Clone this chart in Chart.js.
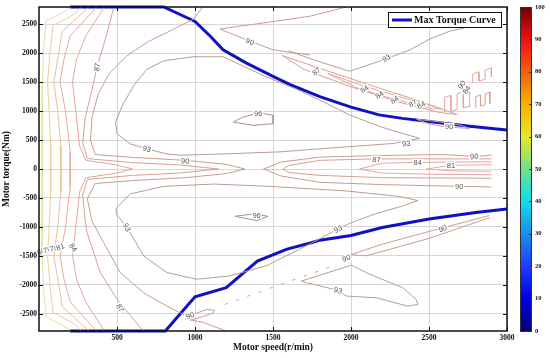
<!DOCTYPE html>
<html lang="en">
<head>
<meta charset="UTF-8">
<title>Motor efficiency map</title>
<script src="https://cdn.jsdelivr.net/npm/chart.js"></script>
<style>
    html, body { margin: 0; padding: 0; background: #fff; }
</style>
</head>
<body>
<canvas id="effMap" width="550" height="358"></canvas>
<script>
// axes
const speedTicks = [500, 1000, 1500, 2000, 2500, 3000];
const torqueTicks = [-2500, -2000, -1500, -1000, -500, 0, 500, 1000, 1500, 2000, 2500];
const colorbarTicks = [0, 10, 20, 30, 40, 50, 60, 70, 80, 90, 100];

// max torque curve [speed r/min, torque Nm]
const maxTorqueUp = [[200, 2800], [800, 2800], [1000, 2550], [1100, 2290], [1180, 2060], [1330, 1830], [1500, 1600],
    [1610, 1460], [1800, 1250], [2000, 1070], [2180, 935], [2330, 875], [2500, 820], [2760, 740], [3000, 675]];
const maxTorqueDown = [[200, -2800], [810, -2800], [1000, -2210], [1200, -2050], [1400, -1590], [1590, -1385],
    [1740, -1280], [1800, -1230], [2000, -1150], [2200, -1010], [2500, -865], [2800, -750], [3000, -690]];

// efficiency contour lines [speed, torque], level in %
const eff60 = [[210, 2800], [150, 2700], [45, 2560], [30, 2100], [22, 1500], [20, 500], [20, -500], [22, -1500], [30, -2100], [45, -2560], [150, -2700], [210, -2800]];
const eff70 = [[270, 2800], [230, 2680], [90, 2480], [70, 2000], [55, 1500], [65, 1000], [75, 400], [75, -400], [65, -1000], [55, -1500], [70, -2000], [90, -2480], [230, -2680], [270, -2800]];
const eff78 = [[320, 2800], [150, 2380], [120, 1900], [95, 1500], [120, 1000], [140, 400], [140, -400], [120, -1000], [95, -1500], [120, -1900], [150, -2380], [320, -2800]];
const eff81 = [[370, 2800], [200, 2300], [160, 1900], [135, 1500], [170, 1000], [200, 300], [200, -300], [170, -1000], [135, -1500], [160, -1900], [200, -2300], [370, -2800]];
const eff84 = [[420, 2800], [300, 2300], [240, 1900], [215, 1500], [240, 900], [260, 400], [300, 150], [500, 70], [600, 0], [500, -70], [300, -150], [260, -400], [240, -900], [215, -1500], [240, -1900], [300, -2300], [420, -2800]];
const eff87 = [[480, 2800], [425, 2240], [372, 1760], [340, 1370], [297, 900], [280, 450], [310, 180], [600, 110], [900, 70], [1150, 0], [900, -70], [600, -110], [310, -180], [280, -450], [297, -900], [308, -1100], [393, -1790], [500, -2250], [606, -2600], [670, -2800]];
const eff90 = [[1050, 2800], [990, 2590], [850, 2400], [700, 2200], [560, 1950], [450, 1650], [380, 1300], [340, 900], [330, 500], [360, 250], [600, 200], [937, 150], [1200, 80], [1320, 0], [1200, -80], [937, -150], [600, -200], [360, -250], [310, -515], [340, -900], [414, -1270], [521, -1791], [670, -2139], [820, -2370], [905, -2487], [968, -2560]];
const eff90Top = [[1970, 2800], [1736, 2640], [1480, 2540], [1200, 2435], [1160, 2418], [1352, 2210], [1500, 2060], [1736, 1972]];
const eff90Leaf = [[940, -2600], [1000, -2500], [1075, -2428], [1125, -2440], [1118, -2487], [1040, -2560], [970, -2610], [1050, -2650], [1200, -2800]];
const eff93Up = [[490, 812], [540, 1130], [610, 1450], [690, 1720], [800, 1870], [990, 1940], [1180, 1940], [1300, 1790], [1450, 1600], [1650, 1380], [1820, 1165], [1990, 935], [2200, 720], [2440, 528], [2270, 441], [1970, 383], [1544, 296], [1200, 262], [905, 238], [820, 260], [692, 348], [585, 435], [500, 610], [490, 812]];
const eff93Down = [[495, -680], [585, -430], [800, -300], [1120, -260], [1480, -300], [1970, -380], [2300, -470], [2430, -545], [2330, -640], [2150, -780], [2000, -930], [1917, -1036], [1740, -1290], [1460, -1670], [1220, -1850], [1010, -1905], [820, -1790], [670, -1500], [565, -1010], [495, -780], [495, -680]];
const eff93Ridge = [[1600, 2040], [1790, 1860], [1990, 1690], [2180, 1860], [2380, 2060], [2500, 2240], [2630, 2380], [2970, 2590]];
const eff93Low = [[2002, -1663], [2120, -1819], [2332, -2052], [2418, -2254], [2428, -2341], [2364, -2370], [2162, -2226], [1970, -2196], [1917, -2097], [1714, -1965], [1682, -1936], [2002, -1663]];
const eff96Up = [[1245, 812], [1309, 899], [1416, 969], [1501, 929], [1501, 783], [1373, 755], [1245, 812]];
const eff96Down = [[1256, -817], [1373, -776], [1469, -817], [1395, -892], [1256, -817]];
const band90 = [[2900, 240], [2790, 215], [2600, 250], [2200, 235], [1800, 205], [1550, 120], [1440, 0], [1550, -120], [1800, -230], [2200, -270], [2694, -300], [2900, -310]];
const band87 = [[2900, 175], [2500, 175], [2163, 175], [1800, 150], [1600, 60], [1565, 0], [1600, -60], [1800, -110], [2200, -150], [2900, -160]];
const band84 = [[2900, 125], [2428, 115], [2200, 100], [2055, 0], [2200, -70], [2500, -90], [2900, -100]];
const band81 = [[2900, 75], [2641, 64], [2481, 0], [2641, -30], [2900, -40]];
const strip87 = [[1560, 1960], [1800, 1740], [2100, 1470], [2400, 1210], [2620, 1000], [2680, 940], [2560, 980], [2300, 1160], [2000, 1420], [1700, 1720], [1560, 1960]];
const strip84 = [[1850, 1650], [2100, 1420], [2350, 1220], [2580, 1040], [2520, 1040], [2300, 1190], [2050, 1390], [1850, 1650]];
const combA = [[2780, 1480], [2780, 1640], [2820, 1680], [2820, 1520], [2860, 1550], [2860, 1710], [2900, 1750], [2900, 1590]];
const combB = [[2600, 980], [2600, 1240], [2640, 1270], [2640, 1000], [2680, 1030], [2680, 1300], [2720, 1330], [2720, 1060], [2760, 1080], [2760, 1350]];
const combC = [[2800, 1060], [2800, 1250], [2830, 1280], [2830, 1090], [2860, 1110], [2860, 1300], [2890, 1330], [2890, 1130]];
const loop90Right = [[2420, 860], [2500, 780], [2600, 730], [2760, 700], [2700, 760], [2550, 820], [2420, 860]];
const tongue90Low = [[2886, -805], [2500, -1080], [2200, -1300], [1998, -1480], [2100, -1500], [2500, -1200], [2890, -840]];
const dashes90 = [[1190, -2340], [1900, -1660]];

const contours = [
    { level: 60, pts: eff60 }, { level: 70, pts: eff70 }, { level: 78, pts: eff78 }, { level: 81, pts: eff81 },
    { level: 84, pts: eff84 }, { level: 87, pts: eff87 }, { level: 90, pts: eff90 }, { level: 90, pts: eff90Top },
    { level: 90, pts: eff90Leaf }, { level: 93, pts: eff93Up }, { level: 93, pts: eff93Down }, { level: 93, pts: eff93Ridge },
    { level: 93, pts: eff93Low }, { level: 96, pts: eff96Up }, { level: 96, pts: eff96Down },
    { level: 90, pts: band90 }, { level: 87, pts: band87 }, { level: 84, pts: band84 }, { level: 81, pts: band81 },
    { level: 87, pts: strip87 }, { level: 84, pts: strip84 }, { level: 84, pts: combA }, { level: 84, pts: combB },
    { level: 87, pts: combC }, { level: 90, pts: loop90Right }, { level: 90, pts: tongue90Low }, { level: 90, pts: dashes90, dashed: true }
];

// contour labels [text, speed, torque, angle]
const contourLabels = [
    ['87', 372, 1760, -78], ['90', 1352, 2203, 22], ['93', 692, 348, 14], ['90', 937, 140, 4], ['96', 1405, 955, 0],
    ['93', 2226, 1920, -28], ['87', 1778, 1687, -35], ['84', 2087, 1381, -35], ['84', 2183, 1282, -35], ['84', 2279, 1195, -35],
    ['87', 2396, 1137, -30], ['84', 2450, 1108, -30], ['90', 2710, 1455, -55], ['84', 2740, 1370, -55], ['90', 2630, 735, 0],
    ['93', 2354, 441, -5], ['87', 2163, 170, 0], ['84', 2428, 112, 0], ['81', 2641, 62, 0], ['90', 2790, 215, -5],
    ['90', 2694, -300, 0], ['96', 1395, -805, 0], ['93', 564, -1008, 62], ['87', 521, -2400, 62], ['84', 219, -1356, 55],
    ['60', 15, -1420, -20], ['70', 55, -1395, -20], ['78', 95, -1370, -20], ['81', 137, -1345, -20],
    ['90', 968, -2530, -22], ['93', 1917, -1036, -28], ['90', 1970, -1541, -20], ['90', 2588, -1030, -20], ['93', 1917, -2097, 15]
];

// style
const levelColors = { 60: '#e6dfa0', 70: '#eecf98', 78: '#ecbc98', 81: '#eaa8a2', 84: '#e4a4a0', 87: '#d6a096', 90: '#c99c92', 93: '#b89c90', 96: '#a89286' };
const jetStops = [[0, '#00007a'], [0.1, '#0000e0'], [0.2, '#1c3cff'], [0.3, '#1a90e8'], [0.4, '#10dcf0'], [0.5, '#70e288'],
    [0.6, '#e6e828'], [0.7, '#f8b000'], [0.8, '#f06010'], [0.9, '#f01010'], [1, '#6e0000']];
const serif = '"Liberation Serif", "Times New Roman", serif';

const toXY = pts => pts.map(([x, y]) => ({ x: x, y: y }));

const datasets = contours.map(c => ({
    data: toXY(c.pts),
    showLine: true,
    borderColor: levelColors[c.level],
    borderWidth: 1,
    borderDash: c.dashed ? [3, 9] : [],
    pointRadius: 0,
    tension: 0
}));
[maxTorqueUp, maxTorqueDown].forEach(curve => {
    datasets.push({
        data: toXY(curve),
        showLine: true,
        borderColor: '#1010c4',
        borderWidth: 3,
        pointRadius: 0,
        tension: 0,
        clip: false
    });
});

const fixedTicks = list => scale => { scale.ticks = list.map(v => ({ value: v })); };
const plainNum = v => String(v);

const mapDecor = {
    id: 'mapDecor',
    afterDatasetsDraw(chart) {
        const ctx = chart.ctx, xs = chart.scales.x, ys = chart.scales.y;
        ctx.save();
        ctx.font = '7.5px "Liberation Sans", Arial, sans-serif';
        ctx.textAlign = 'center';
        ctx.textBaseline = 'middle';
        contourLabels.forEach(([txt, s, t, ang]) => {
            const px = xs.getPixelForValue(s), py = ys.getPixelForValue(t);
            ctx.save();
            ctx.translate(px, py);
            ctx.rotate(ang * Math.PI / 180);
            const w = ctx.measureText(txt).width;
            ctx.fillStyle = '#fff';
            ctx.fillRect(-w / 2 - 1, -3.5, w + 2, 7);
            ctx.fillStyle = '#555';
            ctx.fillText(txt, 0, 0.5);
            ctx.restore();
        });
        ctx.restore();
    },
    afterDraw(chart) {
        const ctx = chart.ctx, a = chart.chartArea, xs = chart.scales.x, ys = chart.scales.y, cb = chart.scales.cb;
        ctx.save();
        // inward ticks
        ctx.strokeStyle = '#111';
        ctx.lineWidth = 1;
        ctx.beginPath();
        speedTicks.forEach(v => {
            const px = Math.round(xs.getPixelForValue(v)) + 0.5;
            ctx.moveTo(px, a.bottom); ctx.lineTo(px, a.bottom - 4);
            ctx.moveTo(px, a.top); ctx.lineTo(px, a.top + 4);
        });
        torqueTicks.forEach(v => {
            const py = Math.round(ys.getPixelForValue(v)) + 0.5;
            ctx.moveTo(a.left, py); ctx.lineTo(a.left + 4, py);
            ctx.moveTo(a.right, py); ctx.lineTo(a.right - 4, py);
        });
        ctx.stroke();
        // frame
        ctx.lineWidth = 1.5;
        ctx.strokeStyle = '#111';
        ctx.strokeRect(a.left, a.top, a.right - a.left, a.bottom - a.top);

        // colour bar
        const top = cb.getPixelForValue(100), bot = cb.getPixelForValue(0);
        const bx = cb.left + 13, bw = 11;
        const grad = ctx.createLinearGradient(0, bot, 0, top);
        jetStops.forEach(([p, c]) => grad.addColorStop(p, c));
        ctx.fillStyle = grad;
        ctx.fillRect(bx, top, bw, bot - top);
        ctx.lineWidth = 1;
        ctx.strokeStyle = '#333';
        ctx.strokeRect(bx + 0.5, top + 0.5, bw, bot - top);
        ctx.beginPath();
        colorbarTicks.forEach(v => {
            const py = Math.round(cb.getPixelForValue(v)) + 0.5;
            ctx.moveTo(bx + bw, py); ctx.lineTo(bx + bw - 2, py);
        });
        ctx.stroke();

        // legend
        const lx = a.right - 119, ly = a.top + 5;
        ctx.fillStyle = '#fff';
        ctx.fillRect(lx, ly, 113, 15);
        ctx.strokeStyle = '#111';
        ctx.lineWidth = 1;
        ctx.strokeRect(lx + 0.5, ly + 0.5, 113, 15);
        ctx.strokeStyle = '#1010c4';
        ctx.lineWidth = 3;
        ctx.beginPath();
        ctx.moveTo(lx + 4, ly + 8); ctx.lineTo(lx + 24, ly + 8);
        ctx.stroke();
        ctx.fillStyle = '#111';
        ctx.font = 'bold 10px ' + serif;
        ctx.textBaseline = 'middle';
        ctx.textAlign = 'left';
        ctx.fillText('Max Torque Curve', lx + 26, ly + 8.5);
        ctx.restore();
    }
};

new Chart(document.getElementById('effMap'), {
    type: 'scatter',
    data: { datasets: datasets },
    options: {
        responsive: false,
        animation: false,
        layout: { padding: { top: 7, left: 0, right: 0, bottom: 0 } },
        plugins: { legend: { display: false }, tooltip: { enabled: false } },
        scales: {
            x: {
                type: 'linear',
                min: 0,
                max: 3000,
                afterBuildTicks: fixedTicks(speedTicks),
                afterFit: s => { s.height = 27; },
                grid: { color: '#d6d6d6', drawTicks: false },
                border: { display: false },
                ticks: { padding: 3, color: '#111', callback: plainNum, font: { family: serif, size: 7.5, weight: 'bold' } },
                title: { display: true, text: 'Motor speed(r/min)', color: '#111', padding: { top: 0, bottom: 5 },
                    font: { family: serif, size: 9.5, weight: 'bold' } }
            },
            y: {
                type: 'linear',
                position: 'left',
                min: -2800,
                max: 2800,
                afterBuildTicks: fixedTicks(torqueTicks),
                afterFit: s => { s.width = 39; },
                grid: { color: '#d6d6d6', drawTicks: false },
                border: { display: false },
                ticks: { padding: 2, color: '#111', callback: plainNum, font: { family: serif, size: 7.5, weight: 'bold' } },
                title: { display: true, text: 'Motor torque(Nm)', color: '#111', padding: { top: 1, bottom: 0 },
                    font: { family: serif, size: 9.5, weight: 'bold' } }
            },
            cb: {
                type: 'linear',
                position: 'right',
                min: 0,
                max: 100,
                afterBuildTicks: fixedTicks(colorbarTicks),
                afterFit: s => { s.width = 43; },
                grid: { display: false, drawTicks: true, tickLength: 26 },
                border: { display: false },
                ticks: { padding: 2, color: '#111', callback: plainNum, font: { family: serif, size: 6.5, weight: 'bold' } }
            }
        }
    },
    plugins: [mapDecor]
});
</script>
</body>
</html>
